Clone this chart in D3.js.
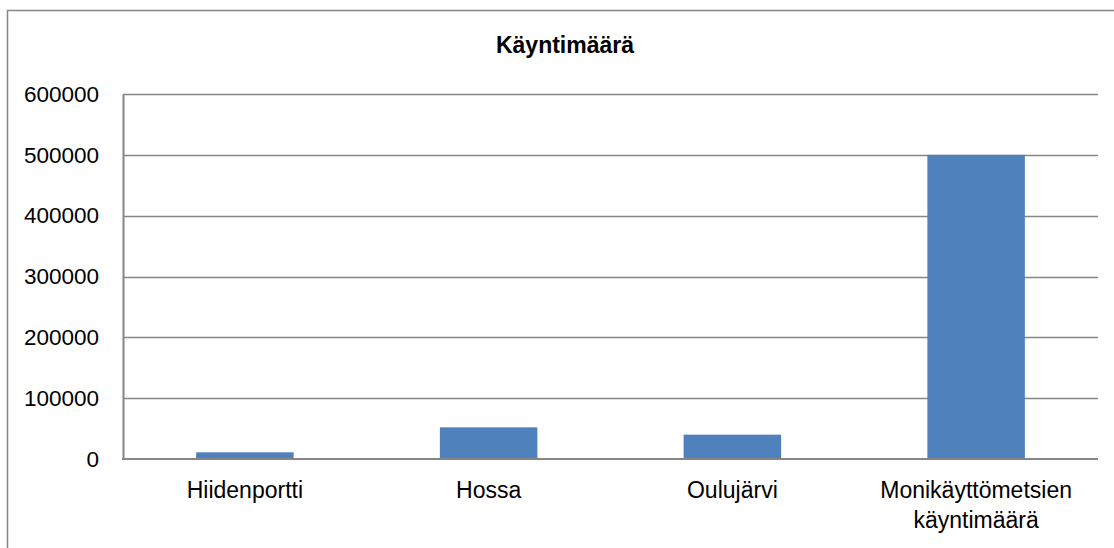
<!DOCTYPE html>
<html>
<head>
<meta charset="utf-8">
<script src="https://cdn.jsdelivr.net/npm/d3@7"></script>
<style>
  body { margin: 0; background: #fff; }
  svg { display: block; }
</style>
</head>
<body>
<div id="chart"></div>
<script>
// data
let categories = ["Hiidenportti", "Hossa", "Oulujärvi", "Monikäyttömetsien käyntimäärä"];
let values = [11000, 52000, 40000, 500000];
let yTicks = [0, 100000, 200000, 300000, 400000, 500000, 600000];
let chartTitle = "Käyntimäärä";

let width = 1114, height = 548;
let margin = { left: 123, right: 16, top: 94, bottom: 89 };
let fontFamily = "'Liberation Sans', Arial, sans-serif";

let svg = d3.select("#chart").append("svg").attr("width", width).attr("height", height);

// outer chart border
svg.append("rect").attr("x", 7.5).attr("y", 10.5).attr("width", 1120).attr("height", 560)
    .attr("fill", "none").attr("stroke", "#868686").attr("stroke-width", 1.5);

svg.append("text").text(chartTitle)
    .attr("x", 565).attr("y", 53).attr("text-anchor", "middle")
    .attr("style", "font: bold 23px " + fontFamily).attr("fill", "#000");

let x = d3.scaleBand().domain(categories)
    .range([margin.left, width - margin.right]).paddingInner(0.6).paddingOuter(0.3);
let y = d3.scaleLinear().domain([0, 600000]).range([height - margin.bottom, margin.top]);

// gridlines
svg.append("g").selectAll("line").data(yTicks.filter(d => d > 0)).join("line")
    .attr("x1", margin.left).attr("x2", width - margin.right)
    .attr("y1", d => Math.round(y(d)) + 0.5).attr("y2", d => Math.round(y(d)) + 0.5)
    .attr("stroke", "#868686").attr("stroke-width", 1.3);

// y axis labels
let yAxis = d3.axisLeft(y).tickValues(yTicks).tickSize(0).tickPadding(24).tickFormat(d3.format("d"));
let yg = svg.append("g").attr("transform", "translate(" + margin.left + ",0)").call(yAxis);
yg.select(".domain").attr("stroke", "#868686").attr("stroke-width", 2);
yg.selectAll("text").attr("style", "font: 22.5px " + fontFamily).attr("fill", "#000");

// bars
svg.append("g").selectAll("rect").data(values).join("rect")
    .attr("x", (d, i) => x(categories[i]))
    .attr("width", x.bandwidth())
    .attr("y", d => y(d))
    .attr("height", d => y(0) - y(d))
    .attr("fill", "#4f81bd");

// x axis
svg.append("line").attr("x1", margin.left - 1).attr("x2", width - margin.right)
    .attr("y1", y(0)).attr("y2", y(0)).attr("stroke", "#868686").attr("stroke-width", 2);

let xLabels = svg.append("g");
categories.forEach(c => {
    let words = c.split(" ");
    let t = xLabels.append("text").attr("text-anchor", "middle")
        .attr("style", "font: 23px " + fontFamily).attr("fill", "#000");
    words.forEach((w, wi) => {
        t.append("tspan").attr("x", x(c) + x.bandwidth() / 2).attr("y", 498 + wi * 30).text(w);
    });
});
</script>
</body>
</html>
